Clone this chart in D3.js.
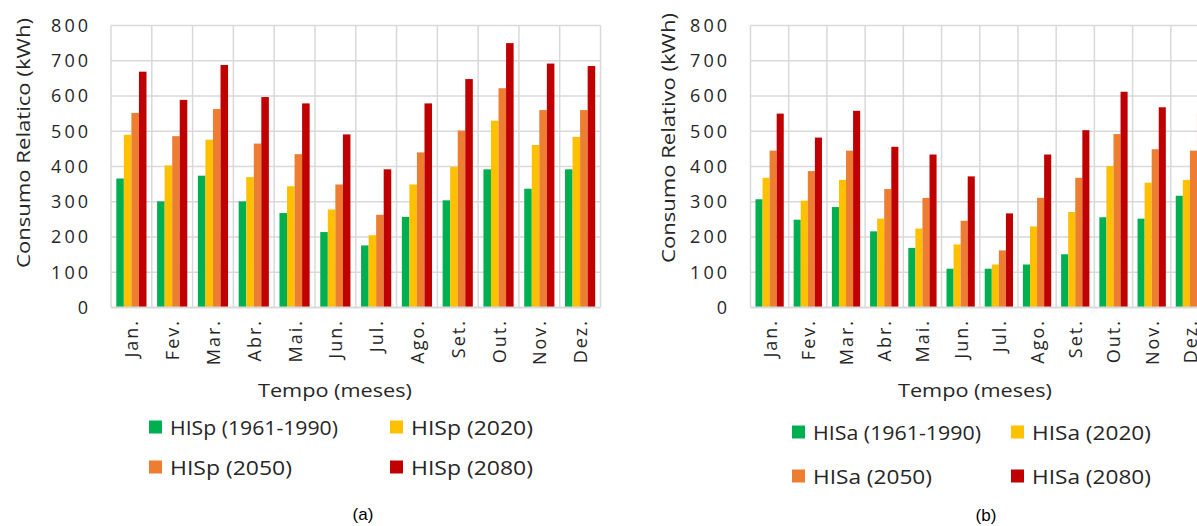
<!DOCTYPE html>
<html>
<head>
<meta charset="utf-8">
<script src="https://cdn.jsdelivr.net/npm/d3@7"></script>
<style>
  html, body { margin: 0; padding: 0; background: #fff; overflow: hidden; }
  svg { display: block; }
</style>
</head>
<body>
<svg id="chart" width="1197" height="526"></svg>
<script>
// ---- Data ----
const months = ["Jan.", "Fev.", "Mar.", "Abr.", "Mai.", "Jun.", "Jul.", "Ago.", "Set.", "Out.", "Nov.", "Dez."];
const yTicks = [0, 100, 200, 300, 400, 500, 600, 700, 800];

const seriesNamesA = ["HISp (1961-1990)", "HISp (2020)", "HISp (2050)", "HISp (2080)"];
const hispBase = [366, 301, 374, 301, 268, 214, 176, 257, 304, 392, 337, 392];
const hisp2020 = [490, 403, 476, 370, 344, 278, 205, 349, 399, 530, 461, 484];
const hisp2050 = [552, 486, 563, 465, 435, 349, 263, 440, 502, 622, 560, 560];
const hisp2080 = [669, 589, 688, 597, 579, 491, 392, 579, 648, 750, 692, 685];

const seriesNamesB = ["HISa (1961-1990)", "HISa (2020)", "HISa (2050)", "HISa (2080)"];
const hisaBase = [307, 249, 285, 216, 169, 110, 110, 122, 151, 256, 252, 317];
const hisa2020 = [368, 303, 362, 252, 224, 179, 122, 230, 271, 401, 354, 362];
const hisa2050 = [445, 387, 445, 336, 311, 246, 162, 311, 368, 492, 449, 445];
const hisa2080 = [550, 482, 558, 456, 434, 372, 267, 434, 503, 612, 568, 552];

const colors = ["#00b050", "#ffc000", "#ed7d31", "#c00000"];

// ---- Drawing ----
const svg = d3.select("#chart");
const FONT = "'Open Sans', 'DejaVu Sans', sans-serif";

function drawChart(cfg) {
  const g = svg.append("g");
  const series = cfg.series;
  const x = d3.scaleBand().domain(months).range([cfg.left, cfg.right]).paddingInner(0).paddingOuter(0);
  const y = d3.scaleLinear().domain([0, 800]).range([cfg.bottom, cfg.top]);
  const groupW = x.bandwidth() * 0.74;
  const x1 = d3.scaleBand().domain(d3.range(series.length)).range([0, groupW]).padding(0);
  const off = (x.bandwidth() - groupW) / 2;

  // horizontal gridlines
  g.append("g").selectAll("line").data(yTicks.filter(t => t > 0)).join("line")
    .attr("x1", cfg.left).attr("x2", cfg.right)
    .attr("y1", d => y(d)).attr("y2", d => y(d))
    .attr("stroke", "#d9d9d9").attr("stroke-width", 1.5);
  // vertical gridlines at band boundaries
  const bounds = months.map(m => x(m)).concat([x(months[months.length - 1]) + x.bandwidth()]);
  g.append("g").selectAll("line").data(bounds).join("line")
    .attr("x1", d => d).attr("x2", d => d)
    .attr("y1", y(800)).attr("y2", y(0))
    .attr("stroke", "#d9d9d9").attr("stroke-width", 1.5);

  // bars
  series.forEach((vals, si) => {
    g.append("g").selectAll("rect").data(vals).join("rect")
      .attr("x", (d, i) => x(months[i]) + off + x1(si))
      .attr("width", x1.bandwidth())
      .attr("y", d => y(d))
      .attr("height", d => y(0) - y(d))
      .attr("fill", colors[si]);
  });

  // bottom axis line
  g.append("line").attr("x1", cfg.left).attr("x2", cfg.right)
    .attr("y1", y(0)).attr("y2", y(0))
    .attr("stroke", "#d9d9d9").attr("stroke-width", 2);

  // y tick labels
  const yAxis = d3.axisLeft(y).tickValues(yTicks).tickSize(0).tickPadding(0);
  const ya = g.append("g").attr("transform", `translate(${cfg.yLabelRight + 3},0)`).call(yAxis);
  ya.select(".domain").remove();
  ya.selectAll("text").attr("font-family", FONT).attr("font-size", 18)
    .attr("letter-spacing", 3).attr("fill", "#262626");

  // x tick labels (rotated)
  const xAxis = d3.axisBottom(x).tickSize(0).tickPadding(0);
  const xa = g.append("g").attr("transform", `translate(0,${cfg.xLabelTop})`).call(xAxis);
  xa.select(".domain").remove();
  xa.selectAll("text")
    .attr("font-family", FONT).attr("font-size", 18).attr("letter-spacing", 2).attr("fill", "#262626")
    .attr("text-anchor", "end").attr("dy", null).attr("y", 0).attr("x", 2)
    .attr("dominant-baseline", "central")
    .attr("transform", "rotate(-90)");

  // y axis title
  g.append("text")
    .attr("transform", `translate(${cfg.yTitleX},${cfg.yTitleY}) rotate(-90)`)
    .attr("text-anchor", "middle").attr("dominant-baseline", "central")
    .attr("font-family", FONT).attr("font-size", 19).attr("fill", "#262626")
    .attr("textLength", 250).attr("lengthAdjust", "spacingAndGlyphs")
    .text(cfg.yTitle);

  // x axis title
  g.append("text")
    .attr("x", cfg.xTitleX).attr("y", cfg.xTitleY)
    .attr("text-anchor", "middle").attr("dominant-baseline", "central")
    .attr("font-family", FONT).attr("font-size", 19).attr("fill", "#262626")
    .attr("textLength", 154).attr("lengthAdjust", "spacingAndGlyphs")
    .text("Tempo (meses)");

  // legend
  cfg.names.forEach((name, i) => {
    const col = i % 2, row = Math.floor(i / 2);
    const lx = cfg.legX[col], ly = cfg.legY[row];
    g.append("rect").attr("x", lx).attr("y", ly - 6.5).attr("width", 13).attr("height", 13)
      .attr("fill", colors[i]);
    g.append("text").attr("x", lx + 21).attr("y", ly)
      .attr("dominant-baseline", "central")
      .attr("font-family", FONT).attr("font-size", 19.5).attr("fill", "#262626")
      .attr("textLength", cfg.legLen[i]).attr("lengthAdjust", "spacingAndGlyphs")
      .text(name);
  });

  // panel label
  g.append("text").attr("x", cfg.panelX).attr("y", cfg.panelY)
    .attr("text-anchor", "middle").attr("dominant-baseline", "central")
    .attr("font-family", "'Liberation Sans', Arial, sans-serif").attr("font-size", 17).attr("fill", "#000")
    .text(cfg.panel);
}

drawChart({
  series: [hispBase, hisp2020, hisp2050, hisp2080],
  names: seriesNamesA,
  left: 111, right: 600.5, top: 25.5, bottom: 307.5,
  yLabelRight: 88, xLabelTop: 321,
  yTitle: "Consumo Relatico (kWh)", yTitleX: 23, yTitleY: 143,
  xTitleX: 335, xTitleY: 390,
  legX: [149, 390], legY: [427, 467], legLen: [168, 122, 122, 122],
  panel: "(a)", panelX: 363, panelY: 514
});

drawChart({
  series: [hisaBase, hisa2020, hisa2050, hisa2080],
  names: seriesNamesB,
  left: 750.5, right: 1209, top: 25.5, bottom: 307.5,
  yLabelRight: 727, xLabelTop: 321,
  yTitle: "Consumo Relativo (kWh)", yTitleX: 668, yTitleY: 138,
  xTitleX: 975, xTitleY: 390,
  legX: [792, 1011], legY: [432, 476], legLen: [168, 119, 119, 119],
  panel: "(b)", panelX: 986, panelY: 515
});
</script>
</body>
</html>
